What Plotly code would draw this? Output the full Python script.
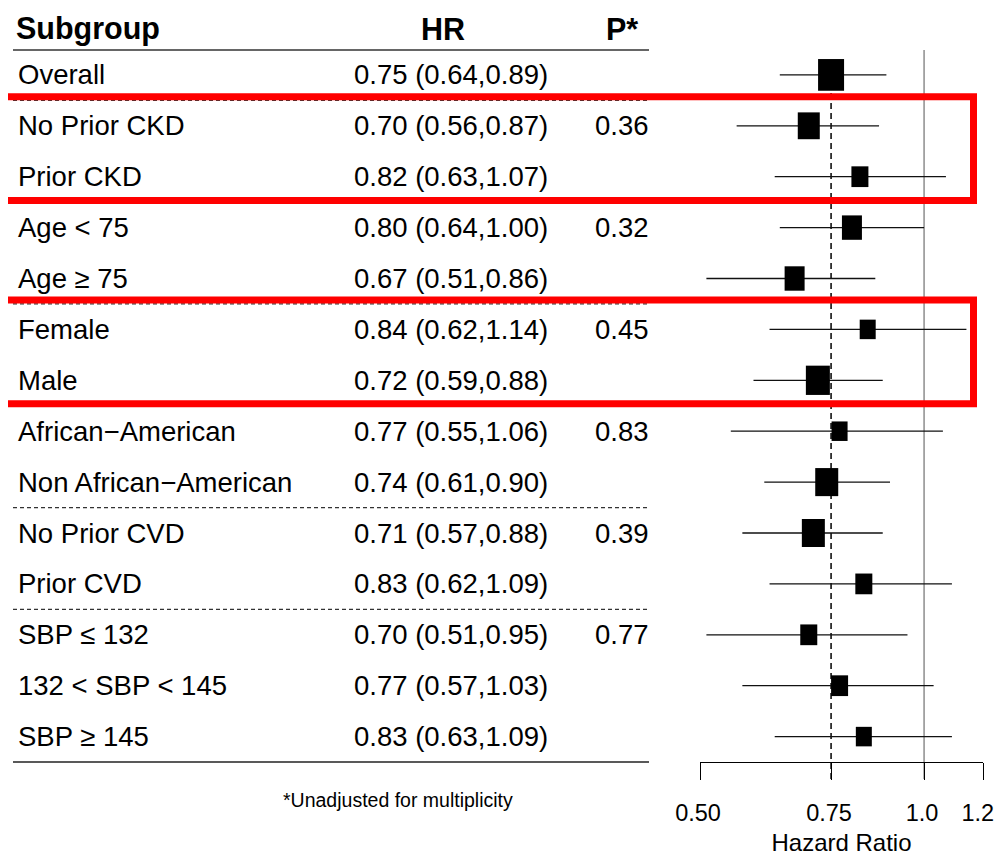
import math
import plotly.graph_objects as go

# ---------------- data ----------------
subgroups = ["Overall", "No Prior CKD", "Prior CKD", "Age < 75", "Age \u2265 75",
             "Female", "Male", "African\u2212American", "Non African\u2212American",
             "No Prior CVD", "Prior CVD", "SBP \u2264 132", "132 < SBP < 145", "SBP \u2265 145"]
hr = [0.75, 0.70, 0.82, 0.80, 0.67, 0.84, 0.72, 0.77, 0.74, 0.71, 0.83, 0.70, 0.77, 0.83]
ci_low = [0.64, 0.56, 0.63, 0.64, 0.51, 0.62, 0.59, 0.55, 0.61, 0.57, 0.62, 0.51, 0.57, 0.63]
ci_high = [0.89, 0.87, 1.07, 1.00, 0.86, 1.14, 0.88, 1.06, 0.90, 0.88, 1.09, 0.95, 1.03, 1.09]
p_values = ["", "0.36", "", "0.32", "", "0.45", "", "0.83", "", "0.39", "", "0.77", "", ""]
# relative box weight (box width in px)
box_weight = [26, 22, 17, 20, 20, 16, 24, 16, 23, 23, 17, 17, 17, 16]
tick_vals = [0.50, 0.75, 1.0, 1.2]
tick_text = ["0.50", "0.75", "1.0", "1.2"]

# ---------------- layout constants ----------------
OFF = 8  # page body margin of the html page
W, H = 1002 - OFF, 864 - 2 * OFF
PLOT_L, PLOT_R, PLOT_T, PLOT_B = 700, 983, 24, 762  # in window pixels
L, T = PLOT_L - OFF, PLOT_T - OFF
R, B = W - (PLOT_R - OFF), H - (PLOT_B - OFF)
PW, PH = PLOT_R - PLOT_L, PLOT_B - PLOT_T
ROW_PX = 50.9
FONT = "Liberation Sans, Arial, sans-serif"
y_bottom = -1 + PH / ROW_PX  # row index at plot bottom


def px_x(px):
    return (px - PLOT_L) / PW


def px_y(py):
    return (PLOT_B - py) / PH


fig = go.Figure()

# CI lines
cx, cy = [], []
for i in range(len(hr)):
    cx += [ci_low[i], ci_high[i], None]
    cy += [i, i, None]
fig.add_trace(go.Scatter(x=cx, y=cy, mode="lines",
                         line=dict(color="#111111", width=1.3),
                         hoverinfo="skip", showlegend=False))

# boxes (drawn as thick vertical strokes)
for i in range(len(hr)):
    hh = box_weight[i] * 1.22 / ROW_PX / 2
    fig.add_trace(go.Scatter(x=[hr[i], hr[i]], y=[i - hh, i + hh], mode="lines",
                             line=dict(color="black", width=box_weight[i]),
                             hoverinfo="skip", showlegend=False))

shapes = []
# reference lines
shapes.append(dict(type="line", xref="x", yref="paper", x0=1.0, x1=1.0,
                   y0=px_y(779), y1=px_y(50), line=dict(color="#555555", width=1),
                   layer="below"))
shapes.append(dict(type="line", xref="x", yref="paper", x0=hr[0], x1=hr[0],
                   y0=px_y(779), y1=px_y(75), line=dict(color="black", width=1.5, dash="6px,4px"),
                   layer="below"))

# table separators
xl0, xl1 = px_x(13), px_x(649)
shapes.append(dict(type="line", xref="paper", yref="paper", x0=xl0, x1=xl1,
                   y0=px_y(50), y1=px_y(50), line=dict(color="#333333", width=1.5)))
for yy in [0.5, 2.5, 4.5, 6.5, 8.5, 10.5]:
    shapes.append(dict(type="line", xref="paper", yref="y", x0=xl0, x1=xl1,
                       y0=yy, y1=yy, line=dict(color="#333333", width=1.3, dash="4px,3px")))
shapes.append(dict(type="line", xref="paper", yref="paper", x0=xl0, x1=xl1,
                   y0=0, y1=0, line=dict(color="#222222", width=1.5)))

# red highlight boxes
for (ya, yb) in [(0.43, 2.47), (4.42, 6.46)]:
    shapes.append(dict(type="rect", xref="paper", yref="y", x0=px_x(-10), x1=px_x(973.5),
                       y0=ya, y1=yb, line=dict(color="#FF0000", width=7),
                       fillcolor="rgba(0,0,0,0)"))

ann = []
hdr_font = dict(family=FONT, size=30.5, color="black")
hdr_y = px_y(28.5)
ann.append(dict(text="<b>Subgroup</b>", xref="paper", yref="paper", x=px_x(14), y=hdr_y,
                xanchor="left", yanchor="middle", showarrow=False, font=hdr_font))
ann.append(dict(text="<b>HR</b>", xref="paper", yref="paper", x=px_x(443), y=hdr_y,
                xanchor="center", yanchor="middle", showarrow=False, font=hdr_font))
ann.append(dict(text="<b>P*</b>", xref="paper", yref="paper", x=px_x(622), y=hdr_y,
                xanchor="center", yanchor="middle", showarrow=False, font=hdr_font))
row_font = dict(family=FONT, size=27.5, color="black")
for i, lab in enumerate(subgroups):
    ann.append(dict(text=lab, xref="paper", yref="y", x=px_x(16), y=i,
                    xanchor="left", yanchor="middle", showarrow=False, font=row_font))
    ann.append(dict(text=f"{hr[i]:.2f} ({ci_low[i]:.2f},{ci_high[i]:.2f})",
                    xref="paper", yref="y", x=px_x(352), y=i,
                    xanchor="left", yanchor="middle", showarrow=False, font=row_font))
    if p_values[i]:
        ann.append(dict(text=p_values[i], xref="paper", yref="y", x=px_x(622), y=i,
                        xanchor="center", yanchor="middle", showarrow=False, font=row_font))
ann.append(dict(text="*Unadjusted for multiplicity", xref="paper", yref="paper",
                x=px_x(398), y=px_y(800), xanchor="center", yanchor="middle",
                showarrow=False, font=dict(family=FONT, size=19.5, color="black")))

# keep the last tick label inside the visible page (pad it on the right)
tick_text_shown = tick_text[:-1] + [tick_text[-1] + "\u00a0"]

fig.update_layout(
    width=W, height=H,
    margin=dict(l=L, r=R, t=T, b=B, pad=0, autoexpand=False),
    paper_bgcolor="white", plot_bgcolor="white",
    showlegend=False,
    shapes=shapes, annotations=ann,
    xaxis=dict(type="log", range=[math.log10(0.5), math.log10(1.2)],
               tickvals=tick_vals, ticktext=tick_text_shown, automargin=False,
               ticks="outside", ticklen=17, tickwidth=1, tickcolor="black",
               showline=True, linecolor="black", linewidth=1,
               showgrid=False, zeroline=False, ticklabelstandoff=13,
               ticklabelshift=-2, ticklabeloverflow="allow",
               tickfont=dict(family=FONT, size=23.5, color="black"),
               title=dict(text="Hazard Ratio", font=dict(family=FONT, size=24, color="black"),
                          standoff=12)),
    yaxis=dict(range=[y_bottom, -1], showgrid=False, zeroline=False, automargin=False,
               showline=False, showticklabels=False, ticks=""),
)

fig.write_html("out.html")
